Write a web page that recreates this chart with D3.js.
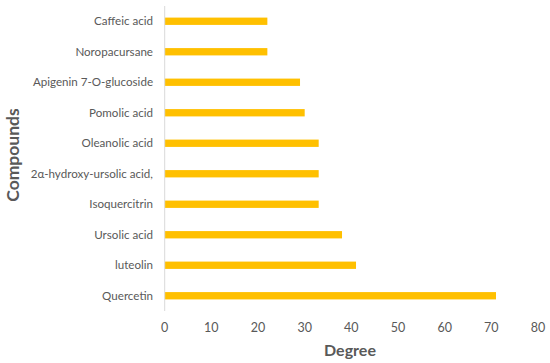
<!DOCTYPE html>
<html><head><meta charset="utf-8">
<script src="https://cdn.jsdelivr.net/npm/d3@7"></script>
<style>body{margin:0;background:#fff;}svg{display:block;}</style>
</head><body>
<script>
const categories = ["Caffeic acid","Noropacursane","Apigenin 7-O-glucoside","Pomolic acid","Oleanolic acid","2α-hydroxy-ursolic acid,","Isoquercitrin","Ursolic acid","luteolin","Quercetin"];
const degrees = [22,22,29,30,33,33,33,38,41,71];
const xTicks = [0,10,20,30,40,50,60,70,80];

const W=550,H=363;
const svg=d3.select("body").append("svg").attr("width",W).attr("height",H);
const x=d3.scaleLinear().domain([0,80]).range([164.7,538]);
const y=d3.scaleBand().domain(categories).range([6,311]).paddingInner(0.76).paddingOuter(0.38);
const font="Lato, 'Open Sans', sans-serif";
const grey="#595959";

svg.append("g").selectAll("rect").data(categories).join("rect")
  .attr("x",x(0)).attr("y",d=>y(d)).attr("height",y.bandwidth())
  .attr("width",(d,i)=>x(degrees[i])-x(0)).attr("fill","#ffc000");

svg.append("line").attr("x1",x(0)).attr("x2",x(0)).attr("y1",6).attr("y2",311)
  .attr("stroke","#d9d9d9").attr("stroke-width",1);

svg.append("g").selectAll("text").data(categories).join("text")
  .attr("x",153).attr("y",d=>y(d)+y.bandwidth()/2).attr("dy","0.35em")
  .attr("text-anchor","end").attr("font-family",font).attr("font-size",11.6).attr("fill",grey)
  .text(d=>d);

svg.append("g").selectAll("text").data(xTicks).join("text")
  .attr("x",d=>x(d)).attr("y",328).attr("dy","0.35em").attr("text-anchor","middle")
  .attr("font-family",font).attr("font-size",12.5).attr("fill",grey).text(d=>d);

svg.append("text").attr("x",350).attr("y",350).attr("dy","0.35em").attr("text-anchor","middle")
  .attr("font-family",font).attr("font-size",16).attr("font-weight","bold").attr("fill",grey).text("Degree");

svg.append("text").attr("transform","translate(13,155) rotate(-90)").attr("dy","0.35em").attr("text-anchor","middle")
  .attr("font-family",font).attr("font-size",17.5).attr("font-weight","bold").attr("fill",grey).text("Compounds");
</script>
</body></html>
